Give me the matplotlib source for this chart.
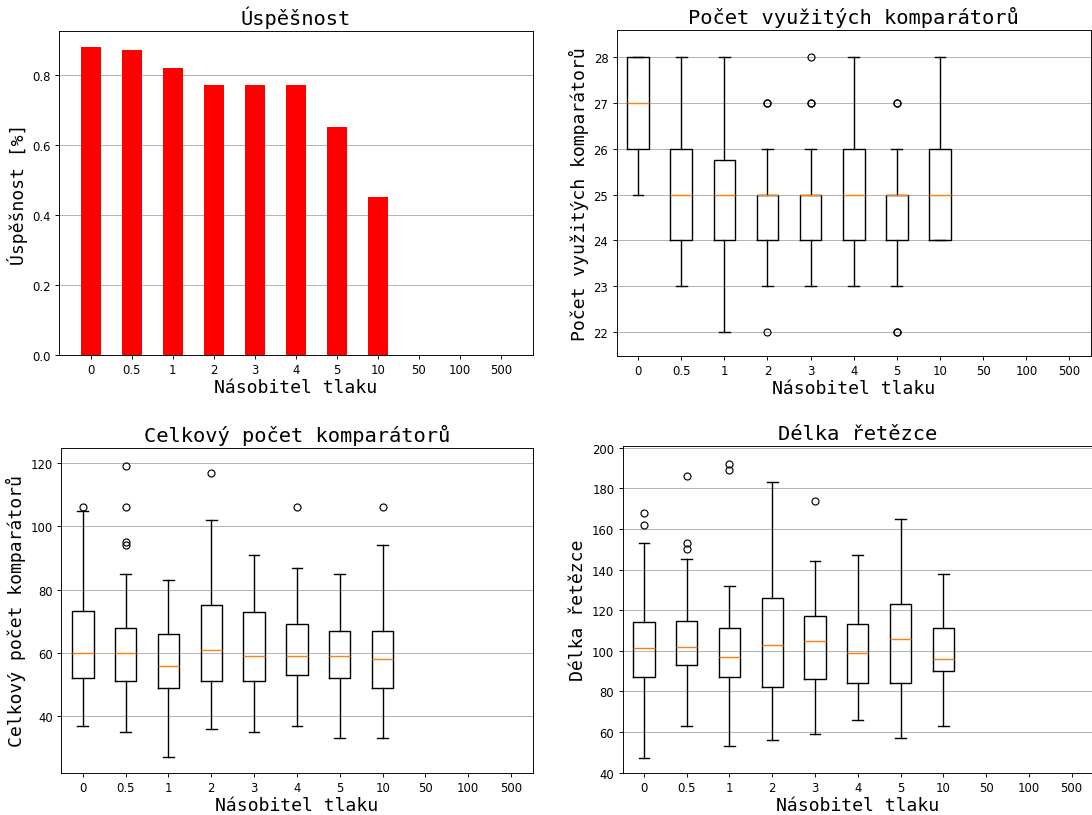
import matplotlib
matplotlib.use('Agg')
from matplotlib import pyplot as plt

labels = ['0', '0.5', '1', '2', '3', '4', '5', '10', '50', '100', '500']
success = [0.88, 0.87, 0.82, 0.77, 0.77, 0.77, 0.65, 0.45, 0, 0, 0]

# used comparators (only first 8 multipliers have data)
used_q1 = [26, 24, 24, 24, 24, 24, 24, 24]
used_med = [27, 25, 25, 25, 25, 25, 25, 25]
used_q3 = [28, 26, 25.75, 25, 25, 26, 25, 26]
used_lo = [25, 23, 22, 23, 23, 23, 23, 24]
used_hi = [28, 28, 28, 26, 26, 28, 26, 28]
used_fl = [[], [], [], [27, 27, 22], [27, 27, 28], [], [27, 27, 22, 22], []]

# total comparators
total_q1 = [52, 51, 49, 51, 51, 53, 52, 49]
total_med = [60, 60, 56, 61, 59, 59, 59, 58]
total_q3 = [73.3, 68, 66, 75, 73, 69, 67, 67]
total_lo = [37, 35, 27, 36, 35, 37, 33, 33]
total_hi = [105, 85, 83, 102, 91, 87, 85, 94]
total_fl = [[106], [119, 106, 95, 94], [], [117], [], [106], [], [106]]

# chain length
len_q1 = [87, 93, 87, 82, 86, 84, 84, 90]
len_med = [101.5, 102, 97, 103, 105, 99, 106, 96]
len_q3 = [114, 114.5, 111, 126, 117, 113, 123, 111]
len_lo = [47, 63, 53, 56, 59, 66, 57, 63]
len_hi = [153, 145, 132, 183, 144, 147, 165, 138]
len_fl = [[168, 162], [186, 153, 150], [192, 189], [], [174], [], [], []]

W, H = 1092, 816
DPI = 84
mono = 'DejaVu Sans Mono'
TS, LS = 17.5, 15.5


def stats(q1, med, q3, lo, hi, fl):
    return [dict(q1=a, med=b, q3=c, whislo=d, whishi=e, fliers=f)
            for a, b, c, d, e, f in zip(q1, med, q3, lo, hi, fl)]


def box_panel(ax, st, title, ylabel, ylim):
    lw = dict(linewidth=1.2)
    ax.bxp(st, positions=range(1, len(st) + 1), widths=0.5,
           boxprops=lw, whiskerprops=lw, capprops=lw,
           medianprops=dict(color='C1', linewidth=1.2))
    ax.set_xticks(range(1, len(labels) + 1))
    ax.set_xticklabels(labels)
    ax.set_xlim(0.5, len(labels) + 0.5)
    ax.set_ylim(*ylim)
    ax.grid(axis='y')
    ax.set_title(title, fontsize=TS, family=mono)
    ax.set_ylabel(ylabel, fontsize=LS, family=mono)
    ax.set_xlabel('Násobitel tlaku', fontsize=LS, family=mono, labelpad=2)


def rect(x0, x1, y0, y1):
    return [x0 / W, 1 - y1 / H, (x1 - x0) / W, (y1 - y0) / H]


fig = plt.figure(figsize=(W / DPI, H / DPI), dpi=DPI)

ax1 = fig.add_axes(rect(59, 532.7, 32.3, 356))
ax1.bar(range(len(labels)), success, width=0.5, color='red')
ax1.set_axisbelow(True)
ax1.set_xticks(range(len(labels)))
ax1.set_xticklabels(labels)
ax1.grid(axis='y')
ax1.set_title('Úspěšnost', fontsize=TS, family=mono)
ax1.set_ylabel('Úspěšnost [%]', fontsize=LS, family=mono)
ax1.set_xlabel('Násobitel tlaku', fontsize=LS, family=mono, labelpad=2)

ax2 = fig.add_axes(rect(616.5, 1091, 31, 357))
box_panel(ax2, stats(used_q1, used_med, used_q3, used_lo, used_hi, used_fl),
          'Počet využitých komparátorů', 'Počet využitých komparátorů', (21.48, 28.59))

ax3 = fig.add_axes(rect(61.4, 532.5, 448.7, 774))
box_panel(ax3, stats(total_q1, total_med, total_q3, total_lo, total_hi, total_fl),
          'Celkový počet komparátorů', 'Celkový počet komparátorů', (22.0, 124.9))

ax4 = fig.add_axes(rect(622.5, 1093, 446.7, 774))
box_panel(ax4, stats(len_q1, len_med, len_q3, len_lo, len_hi, len_fl),
          'Délka řetězce', 'Délka řetězce', (39.8, 201))

fig.savefig('out.png', dpi=DPI)
